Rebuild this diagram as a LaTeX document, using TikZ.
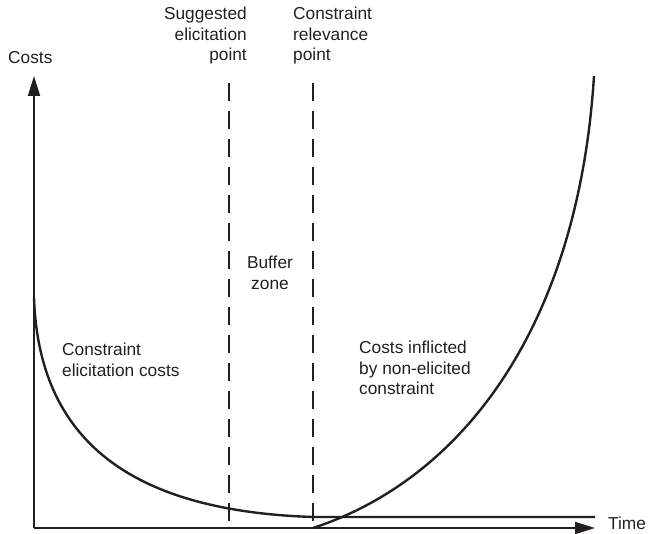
\documentclass[tikz,border=0pt]{standalone}
\usepackage{fontspec}
\setmainfont{Liberation Sans}
\usetikzlibrary{arrows.meta}
\definecolor{ink}{HTML}{231F20}
\begin{document}
\begin{tikzpicture}[x=1pt,y=-1pt,
  axisline/.style={draw=ink, line width=2pt, -{Triangle[length=20pt,width=12pt]}},
  curveline/.style={draw=ink, line width=2.4pt, line join=round},
  guideline/.style={draw=ink, line width=2.4pt, dash pattern=on 18pt off 10pt},
  lbl/.style={font=\fontsize{17.3}{20.5}\selectfont, text=ink, inner sep=0pt}]
\useasboundingbox (0,0) rectangle (649,534);
% axes
\coordinate (O) at (34,528);
\coordinate (ytop) at (34,76);
\coordinate (xend) at (595,528);
\draw[axisline] (O) -- (ytop);
\draw[axisline] (O) -- (xend);
% dashed guide lines
\coordinate (g1t) at (229,83);
\coordinate (g1b) at (229,528);
\coordinate (g2t) at (313,83);
\coordinate (g2b) at (313,528);
\draw[guideline] (g1t) -- (g1b);
\draw[guideline] (g2t) -- (g2b);
% decreasing elicitation cost curve
\coordinate (dStart) at (34,298);
\coordinate (dMeet) at (313,517);
\coordinate (asymEnd) at (595,517);
\draw[curveline] (dStart) .. controls (39,440) and (130,511) .. (dMeet) -- (asymEnd);
% increasing cost curve
\coordinate (uStart) at (313,528);
\coordinate (uTop) at (594,76);
\draw[curveline] (uStart) .. controls (460,480) and (578,330) .. (uTop);
% labels
\node[lbl, anchor=west] (costs) at (8,58) {Costs};
\node[lbl, anchor=west] (time) at (608,523) {Time};
\node[lbl, anchor=east, align=right] (sugg) at (247,36) {Suggested\\elicitation\\point};
\node[lbl, anchor=west, align=left] (relev) at (293,36) {Constraint\\relevance\\point};
\node[lbl, align=center] (buffer) at (270,273) {Buffer\\zone};
\node[lbl, anchor=west, align=left] (elic) at (62,360) {Constraint\\elicitation costs};
\node[lbl, anchor=west, align=left] (inflict) at (359,368) {Costs inflicted\\by non-elicited\\constraint};
\end{tikzpicture}
\end{document}
